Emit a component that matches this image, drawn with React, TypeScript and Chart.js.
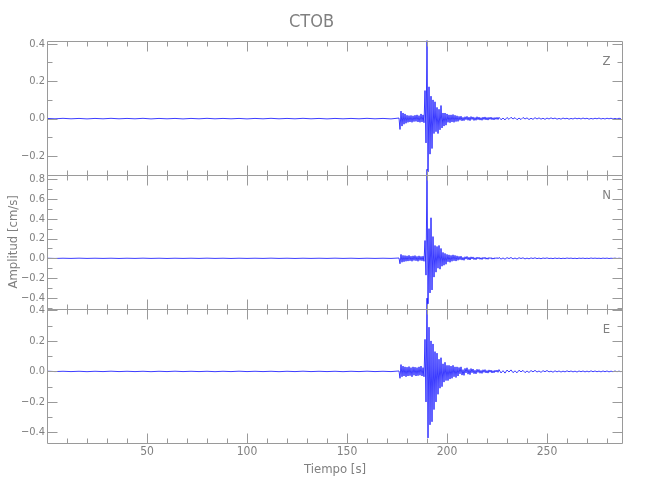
import React, { useEffect, useRef } from "react";
import { Chart, registerables } from "chart.js";

Chart.register(...registerables);

// ---------- text ----------
const TITLE = "CTOB";
const X_TITLE = "Tiempo [s]";
const Y_TITLE = "Amplitud [cm/s]";
const COMPONENTS = ["Z", "N", "E"];

// ---------- axes ----------
const X_MIN = 0;
const X_MAX = 288;
const X_TICK_STEP = 10;
const X_LABEL_STEP = 50;
const Y_TICK_STEP = 0.1;

const zRange = [-0.3, 0.417];
const nRange = [-0.511, 0.845];
const eRange = [-0.469, 0.41];

// ---------- sampling of the traces (seconds) ----------
const QUIET_START = 0;
const QUIET_STEP = 4;
const ACTIVE_START = 176;
const ACTIVE_STEP = 0.5;
const CODA_EARLY_START = 206;
const CODA_EARLY_STEP = 0.5;
const CODA_LATE_START = 226;
const CODA_LATE_STEP = 1;

// ---------- Z component (cm/s) ----------
const zQuiet = [
  0.001, -0.001, 0.0015, -0.001, 0.001, -0.0015, 0.001, -0.001, 0.0015, -0.001,
  0.001, -0.001, 0.0015, -0.0015, 0.001, -0.001, 0.001, -0.0015, 0.001, -0.001,
  0.0015, -0.001, 0.001, -0.001, 0.001, -0.0015, 0.001, -0.001, 0.0015, -0.001,
  0.001, -0.001, 0.0015, -0.001, 0.001, -0.0015, 0.001, -0.001, 0.001, -0.001,
  0.0015, -0.001, 0.001, -0.0015,
];
const zActive = [
  0.003, -0.058, 0.04, -0.04, 0.03, -0.03, 0.025, -0.025, 0.018, -0.02,
  0.016, -0.018, 0.017, -0.02, 0.015, -0.016, 0.018, -0.015, 0.02, -0.018,
  0.016, -0.02, 0.025, -0.018, 0.02, -0.022, 0.15, -0.13, 0.417, -0.285,
  0.17, -0.19, 0.12, -0.16, 0.1, -0.08, 0.09, -0.07, 0.06, -0.08,
  0.05, -0.06, 0.07, -0.05, 0.03, -0.04, 0.03, -0.035, 0.025, -0.02,
  0.02, -0.022, 0.02, -0.018, 0.022, -0.02, 0.018, -0.016, 0.015, -0.015,
];
const zCodaEarly = [
  0.012, -0.009, 0.013, -0.012, 0.007, -0.011, 0.01, -0.006, 0.012, -0.009,
  0.008, -0.011, 0.011, -0.005, 0.009, -0.01, 0.006, -0.009, 0.01, -0.006,
  0.008, -0.008, 0.005, -0.009, 0.008, -0.005, 0.009, -0.007, 0.006, -0.008,
  0.007, -0.004, 0.008, -0.006, 0.005, -0.007, 0.006, -0.004, 0.007, -0.005,
];
const zCodaLate = [
  0.007, -0.006, 0.003, -0.007, 0.006, -0.004, 0.007, -0.002, 0.005, -0.006,
  0.003, -0.005, 0.006, -0.002, 0.004, -0.005, 0.002, -0.004, 0.005, -0.002,
  0.004, -0.003, 0.002, -0.004, 0.003, -0.002, 0.004, -0.001, 0.003, -0.003,
  0.001, -0.003, 0.003, -0.001, 0.002, -0.003, 0.001, -0.002, 0.003, -0.001,
  0.002, -0.002, 0.003, -0.001, 0.002, -0.003, 0.001, -0.002, 0.002, -0.001,
  0.003, -0.002, 0.001, -0.002, 0.002, -0.001, 0.002, -0.002, 0.001, -0.002,
  0.002, -0.001,
];

// ---------- N component (cm/s) ----------
const nQuiet = [
  0.001, -0.0015, 0.001, -0.001, 0.0015, -0.001, 0.001, -0.001, 0.001, -0.0015,
  0.001, -0.001, 0.0015, -0.001, 0.001, -0.0015, 0.001, -0.001, 0.001, -0.001,
  0.0015, -0.001, 0.001, -0.0015, 0.001, -0.001, 0.001, -0.001, 0.0015, -0.001,
  0.001, -0.0015, 0.001, -0.001, 0.001, -0.001, 0.0015, -0.001, 0.001, -0.0015,
  0.001, -0.001, 0.001, -0.001,
];
const nActive = [
  0.003, -0.055, 0.04, -0.04, 0.03, -0.035, 0.028, -0.03, 0.025, -0.028,
  0.03, -0.025, 0.022, -0.03, 0.025, -0.022, 0.028, -0.025, 0.02, -0.03,
  0.025, -0.022, 0.02, -0.025, 0.022, -0.03, 0.18, -0.17, 0.9, -0.46,
  0.3, -0.35, 0.41, -0.32, 0.22, -0.19, 0.13, -0.14, 0.12, -0.1,
  0.13, -0.11, 0.1, -0.08, 0.06, -0.07, 0.05, -0.06, 0.04, -0.035,
  0.035, -0.04, 0.03, -0.03, 0.035, -0.025, 0.03, -0.028, 0.025, -0.02,
];
const nCodaEarly = [
  0.02, -0.014, 0.022, -0.018, 0.01, -0.02, 0.016, -0.008, 0.019, -0.014,
  0.011, -0.017, 0.015, -0.007, 0.014, -0.013, 0.006, -0.014, 0.012, -0.006,
  0.011, -0.01, 0.006, -0.012, 0.01, -0.005, 0.011, -0.009, 0.005, -0.01,
  0.009, -0.004, 0.008, -0.009, 0.004, -0.008, 0.007, -0.004, 0.008, -0.005,
];
const nCodaLate = [
  0.009, -0.008, 0.004, -0.009, 0.007, -0.003, 0.008, -0.006, 0.003, -0.007,
  0.006, -0.002, 0.005, -0.006, 0.002, -0.005, 0.004, -0.002, 0.005, -0.003,
  0.002, -0.004, 0.003, -0.001, 0.004, -0.002, 0.001, -0.003, 0.003, -0.002,
  0.002, -0.003, 0.001, -0.002, 0.003, -0.001, 0.002, -0.002, 0.001, -0.003,
  0.002, -0.001, 0.002, -0.002, 0.001, -0.002, 0.003, -0.001, 0.002, -0.001,
  0.001, -0.002, 0.002, -0.001, 0.002, -0.002, 0.001, -0.001, 0.002, -0.002,
  0.001, -0.001,
];

// ---------- E component (cm/s) ----------
const eQuiet = [
  0.0015, -0.001, 0.001, -0.001, 0.001, -0.0015, 0.001, -0.001, 0.0015, -0.001,
  0.001, -0.001, 0.001, -0.0015, 0.001, -0.001, 0.0015, -0.001, 0.001, -0.001,
  0.001, -0.0015, 0.001, -0.001, 0.0015, -0.001, 0.001, -0.001, 0.001, -0.0015,
  0.001, -0.001, 0.0015, -0.001, 0.001, -0.001, 0.001, -0.0015, 0.001, -0.001,
  0.0015, -0.001, 0.001, -0.001,
];
const eActive = [
  0.003, -0.045, 0.045, -0.035, 0.035, -0.03, 0.03, -0.035, 0.028, -0.03,
  0.032, -0.028, 0.025, -0.035, 0.03, -0.025, 0.028, -0.03, 0.025, -0.028,
  0.03, -0.025, 0.035, -0.03, 0.025, -0.035, 0.21, -0.2, 0.48, -0.436,
  0.29, -0.35, 0.2, -0.33, 0.18, -0.25, 0.13, -0.2, 0.12, -0.15,
  0.08, -0.11, 0.09, -0.1, 0.05, -0.07, 0.06, -0.06, 0.04, -0.06,
  0.04, -0.05, 0.035, -0.045, 0.04, -0.035, 0.03, -0.04, 0.03, -0.03,
];
const eCodaEarly = [
  0.026, -0.016, 0.03, -0.024, 0.012, -0.026, 0.02, -0.01, 0.024, -0.018,
  0.013, -0.021, 0.019, -0.009, 0.016, -0.015, 0.008, -0.016, 0.014, -0.007,
  0.013, -0.012, 0.007, -0.013, 0.011, -0.006, 0.012, -0.01, 0.006, -0.011,
  0.01, -0.005, 0.009, -0.01, 0.005, -0.009, 0.008, -0.004, 0.009, -0.006,
];
const eCodaLate = [
  0.012, -0.01, 0.005, -0.011, 0.009, -0.004, 0.01, -0.008, 0.004, -0.009,
  0.008, -0.003, 0.007, -0.008, 0.003, -0.007, 0.006, -0.003, 0.007, -0.004,
  0.003, -0.006, 0.005, -0.002, 0.006, -0.003, 0.002, -0.005, 0.004, -0.003,
  0.003, -0.004, 0.002, -0.003, 0.004, -0.002, 0.003, -0.003, 0.002, -0.004,
  0.003, -0.002, 0.003, -0.003, 0.002, -0.003, 0.004, -0.002, 0.003, -0.002,
  0.002, -0.003, 0.003, -0.002, 0.003, -0.003, 0.002, -0.002, 0.003, -0.002,
  0.002, -0.002,
];

// ---------- styles ----------
const FONT = "'Liberation Sans Narrow', 'DejaVu Sans Condensed', 'Liberation Sans', sans-serif";
const AXIS_COLOR = "#9a9a9a";
const TEXT_COLOR = "#808080";
const TRACE_COLOR = "rgba(0, 0, 255, 0.85)";
const PANEL_IDS = ["yZ", "yN", "yE"];

function buildTrace(
  quiet: number[],
  active: number[],
  codaEarly: number[],
  codaLate: number[]
) {
  const pts: { x: number; y: number }[] = [];
  quiet.forEach((v, i) => pts.push({ x: QUIET_START + i * QUIET_STEP, y: v }));
  active.forEach((v, i) => pts.push({ x: ACTIVE_START + i * ACTIVE_STEP, y: v }));
  codaEarly.forEach((v, i) => pts.push({ x: CODA_EARLY_START + i * CODA_EARLY_STEP, y: v }));
  codaLate.forEach((v, i) => pts.push({ x: CODA_LATE_START + i * CODA_LATE_STEP, y: v }));
  return pts;
}

function yLabel(v: number) {
  const tenth = Math.round(v * 10);
  if (tenth % 2 !== 0) return "";
  if (tenth === 0) return "0.0";
  const s = (tenth / 10).toFixed(1);
  return s.replace("-", "\u2212");
}

const fixWidth = (scale: any) => {
  scale.width = 47;
};

function yScale(range: number[], withTitle: boolean) {
  return {
    type: "linear",
    position: "left",
    stack: "panels",
    stackWeight: 1,
    min: range[0],
    max: range[1],
    grid: { display: false, drawTicks: false },
    border: { display: false },
    ticks: {
      stepSize: Y_TICK_STEP,
      includeBounds: false,
      autoSkip: false,
      padding: 2,
      color: TEXT_COLOR,
      font: { family: FONT, size: 11 },
      callback: (v: number) => yLabel(v),
    },
    title: {
      display: withTitle,
      text: Y_TITLE,
      color: TEXT_COLOR,
      font: { family: FONT, size: 13 },
      padding: { top: 6, bottom: 0 },
    },
    afterFit: fixWidth,
  };
}

const framePlugin = {
  id: "seismoFrames",
  afterDraw(chart: any) {
    const ctx = chart.ctx;
    const xs = chart.scales.x;
    const l = Math.round(chart.chartArea.left) + 0.5;
    const r = Math.round(chart.chartArea.right) - 0.5;
    ctx.save();
    ctx.strokeStyle = AXIS_COLOR;
    ctx.lineWidth = 1;
    PANEL_IDS.forEach((id, k) => {
      const ys = chart.scales[id];
      const top = Math.round(ys.top) + 0.5;
      const bottom = Math.round(ys.bottom) + 0.5;
      ctx.beginPath();
      ctx.rect(l, top, r - l, bottom - top);
      xs.ticks.forEach((t: any) => {
        const px = Math.round(xs.getPixelForValue(t.value)) + 0.5;
        if (px <= l + 1 || px >= r - 1) return;
        const len = t.value % X_LABEL_STEP === 0 ? 10 : 5;
        ctx.moveTo(px, top);
        ctx.lineTo(px, top + len);
        ctx.moveTo(px, bottom);
        ctx.lineTo(px, bottom - len);
      });
      ys.ticks.forEach((t: any) => {
        const py = Math.round(ys.getPixelForValue(t.value)) + 0.5;
        const len = Math.round(t.value * 10) % 2 === 0 ? 10 : 5;
        ctx.moveTo(l, py);
        ctx.lineTo(l + len, py);
        ctx.moveTo(r, py);
        ctx.lineTo(r - len, py);
      });
      ctx.stroke();
      ctx.fillStyle = TEXT_COLOR;
      ctx.font = `13px ${FONT}`;
      ctx.textAlign = "center";
      ctx.textBaseline = "middle";
      ctx.fillText(COMPONENTS[k], r - 16, ys.top + 21);
    });
    ctx.restore();
  },
};

export default function App() {
  const canvasRef = useRef<HTMLCanvasElement | null>(null);

  useEffect(() => {
    if (!canvasRef.current) return;
    const traceStyle = {
      borderColor: TRACE_COLOR,
      borderWidth: 0.9,
      pointRadius: 0,
      tension: 0,
      fill: false,
      clip: false as any,
    };
    const chart = new Chart(canvasRef.current, {
      type: "line",
      data: {
        datasets: [
          { label: "E", data: buildTrace(eQuiet, eActive, eCodaEarly, eCodaLate), yAxisID: "yE", ...traceStyle },
          { label: "N", data: buildTrace(nQuiet, nActive, nCodaEarly, nCodaLate), yAxisID: "yN", ...traceStyle },
          { label: "Z", data: buildTrace(zQuiet, zActive, zCodaEarly, zCodaLate), yAxisID: "yZ", ...traceStyle },
        ],
      },
      options: {
        responsive: false,
        maintainAspectRatio: false,
        devicePixelRatio: 1,
        animation: false,
        parsing: false,
        normalized: true,
        events: [],
        layout: { padding: { left: 0, right: 27, top: 0, bottom: 23 } },
        plugins: {
          legend: { display: false },
          tooltip: { enabled: false },
          title: {
            display: true,
            text: TITLE,
            color: TEXT_COLOR,
            font: { family: FONT, size: 18, weight: "normal" },
            padding: { top: 12, bottom: 7 },
          },
        },
        scales: {
          x: {
            type: "linear",
            position: "bottom",
            min: X_MIN,
            max: X_MAX,
            grid: { display: false, drawTicks: false },
            border: { display: false },
            ticks: {
              stepSize: X_TICK_STEP,
              includeBounds: false,
              autoSkip: false,
              maxRotation: 0,
              padding: 2,
              color: TEXT_COLOR,
              font: { family: FONT, size: 12 },
              callback: (v: number) => (v !== 0 && v % X_LABEL_STEP === 0 ? String(v) : ""),
            },
            title: {
              display: true,
              text: X_TITLE,
              color: TEXT_COLOR,
              font: { family: FONT, size: 13 },
              padding: { top: 0, bottom: 0 },
            },
          },
          yE: yScale(eRange, false),
          yN: yScale(nRange, true),
          yZ: yScale(zRange, false),
        } as any,
      },
      plugins: [framePlugin],
    } as any);
    return () => chart.destroy();
  }, []);

  return (
    <div style={{ position: "fixed", left: 0, top: 0, width: 650, height: 500, background: "#fff" }}>
      <canvas ref={canvasRef} width={650} height={500} />
    </div>
  );
}
